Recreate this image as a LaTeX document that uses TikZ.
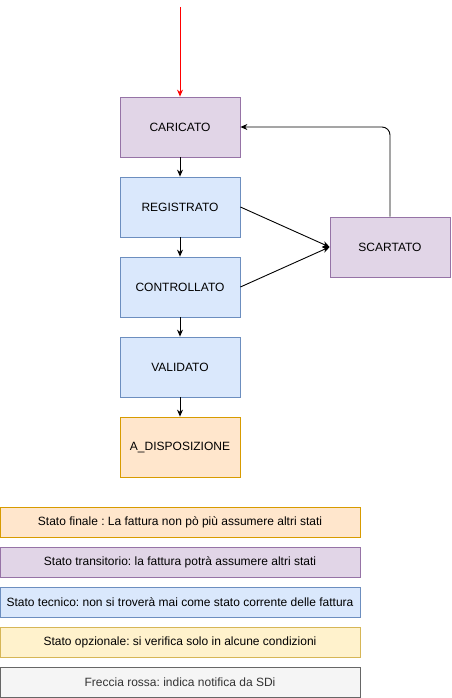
\documentclass[tikz,border=0pt]{standalone}
\usepackage{fontspec}
\setmainfont{Liberation Sans}
\usetikzlibrary{arrows.meta}
\frenchspacing
\definecolor{viofill}{HTML}{E1D5E7}
\definecolor{viodraw}{HTML}{9673A6}
\definecolor{blufill}{HTML}{DAE8FC}
\definecolor{bludraw}{HTML}{6C8EBF}
\definecolor{orafill}{HTML}{FFE6CC}
\definecolor{oradraw}{HTML}{D79B00}
\definecolor{yelfill}{HTML}{FFF2CC}
\definecolor{yeldraw}{HTML}{D6B656}
\definecolor{gryfill}{HTML}{F5F5F5}
\definecolor{grydraw}{HTML}{666666}
\definecolor{grytext}{HTML}{333333}
\begin{document}
\begin{tikzpicture}[x=1pt, y=-1pt, >={Stealth[length=7pt,width=6pt]},
  state/.style={draw, line width=0.8pt, minimum width=120pt, minimum height=60pt,
    inner sep=0pt, font=\fontsize{12}{14}\selectfont},
  legend/.style={draw, line width=0.8pt, minimum width=360pt, minimum height=30pt,
    inner sep=0pt, font=\fontsize{12}{14}\selectfont},
  transitorio/.style={fill=viofill, draw=viodraw},
  tecnico/.style={fill=blufill, draw=bludraw},
  finale/.style={fill=orafill, draw=oradraw},
  opzionale/.style={fill=yelfill, draw=yeldraw},
  nota/.style={fill=gryfill, draw=grydraw, text=grytext},
  link/.style={->, line width=0.9pt}]
  \useasboundingbox (0,0) rectangle (451,698);
  % stati
  \node[state, transitorio] (caricato) at (180,127) {CARICATO};
  \node[state, tecnico] (registrato) at (180,207) {REGISTRATO};
  \node[state, tecnico] (controllato) at (180,287) {CONTROLLATO};
  \node[state, tecnico] (validato) at (180,367) {VALIDATO};
  \node[state, finale] (disposizione) at (180,447) {A\_DISPOSIZIONE};
  \node[state, transitorio] (scartato) at (390,247) {SCARTATO};
  \coordinate (sdi) at (180,7);
  % transizioni
  \draw[link, red] (sdi) -- (caricato);
  \draw[link] (caricato) -- (registrato);
  \draw[link] (registrato) -- (controllato);
  \draw[link] (controllato) -- (validato);
  \draw[link] (validato) -- (disposizione);
  \draw[link] (registrato.east) -- (scartato.west);
  \draw[link] (controllato.east) -- (scartato.west);
  \draw[link, rounded corners=8pt] (scartato.north) |- (caricato.east);
  % legenda
  \node[legend, finale] (lfinale) at (180,522) {Stato finale : La fattura non pò più assumere altri stati};
  \node[legend, transitorio] (ltransitorio) at (180,562) {Stato transitorio: la fattura potrà assumere altri stati};
  \node[legend, tecnico] (ltecnico) at (180,602) {Stato tecnico: non si troverà mai come stato corrente delle fattura};
  \node[legend, opzionale] (lopzionale) at (180,642) {Stato opzionale: si verifica solo in alcune condizioni};
  \node[legend, nota] (lnota) at (180,682) {Freccia rossa: indica notifica da SDi};
\end{tikzpicture}
\end{document}
